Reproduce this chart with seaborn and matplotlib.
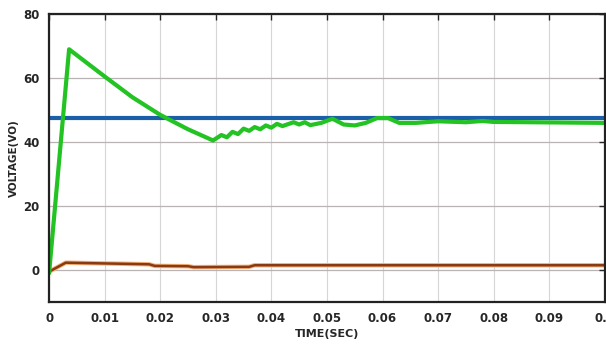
import pandas as pd
import matplotlib.pyplot as plt
import seaborn as sns

# output voltage (green)
t_out = [0, 0.0036, 0.01, 0.015, 0.02, 0.025, 0.0295, 0.031, 0.032, 0.033, 0.034, 0.035,
         0.036, 0.037, 0.038, 0.039, 0.040, 0.041, 0.042, 0.044, 0.045, 0.046, 0.047,
         0.049, 0.051, 0.053, 0.055, 0.057, 0.059, 0.061, 0.063, 0.066, 0.070, 0.075,
         0.078, 0.080, 0.100]
v_out = [-1, 69, 60.5, 54, 48.5, 44, 40.5, 42.2, 41.5, 43.2, 42.5, 44.2,
         43.5, 44.7, 44, 45.2, 44.5, 45.7, 45, 46.2, 45.5, 46.2, 45.3,
         46, 47.3, 45.5, 45.2, 46, 47.5, 47.5, 46, 46, 46.5, 46.2,
         46.6, 46.3, 46]

# reference voltage (blue)
t_ref = [0, 0.1]
v_ref = [47.5, 47.5]

# input / sensed voltage (brown)
t_in = [0, 0.003, 0.006, 0.018, 0.019, 0.025, 0.026, 0.036, 0.037, 0.1]
v_in = [-0.5, 2.3, 2.2, 1.8, 1.3, 1.2, 0.9, 1.0, 1.5, 1.5]

sns.set_style("white")
plt.rcParams['font.family'] = ['DejaVu Sans']

fig = plt.figure(figsize=(6.06, 3.44), dpi=100)
ax = fig.add_axes([0.081, 0.122, 0.917, 0.837])

ax.grid(True, axis="x", color="#d6d6d6", linewidth=0.8)
ax.grid(True, axis="y", color="#b9b3b3", linewidth=0.9)
ax.set_axisbelow(True)

sns.lineplot(x=t_in, y=v_in, ax=ax, color="#f4b27a", linewidth=3.2)
sns.lineplot(x=t_in, y=v_in, ax=ax, color="#8a3a12", linewidth=1.8)
sns.lineplot(x=t_ref, y=v_ref, ax=ax, color="#1a5fa8", linewidth=3)
sns.lineplot(x=t_out, y=v_out, ax=ax, color="#22c322", linewidth=3)

ax.set_xlim(0, 0.1)
ax.set_ylim(-10, 80)
ax.set_xticks([0, 0.01, 0.02, 0.03, 0.04, 0.05, 0.06, 0.07, 0.08, 0.09, 0.1])
ax.set_xticklabels(["0", "0.01", "0.02", "0.03", "0.04", "0.05", "0.06", "0.07",
                    "0.08", "0.09", "0.1"])
ax.set_yticks([0, 20, 40, 60, 80])

ax.tick_params(direction="in", length=4, width=1, top=True, right=True,
               labelsize=8.5, pad=7)
for lab in ax.get_xticklabels() + ax.get_yticklabels():
    lab.set_fontweight("bold")

for s in ax.spines.values():
    s.set_color("#222222")
    s.set_linewidth(1.6)

ax.set_xlabel("TIME(SEC)", fontsize=8, fontweight="bold", labelpad=3)
ax.set_ylabel("VOLTAGE(VO)", fontsize=7.5, fontweight="bold", labelpad=3)

fig.savefig("out.png", dpi=100)
